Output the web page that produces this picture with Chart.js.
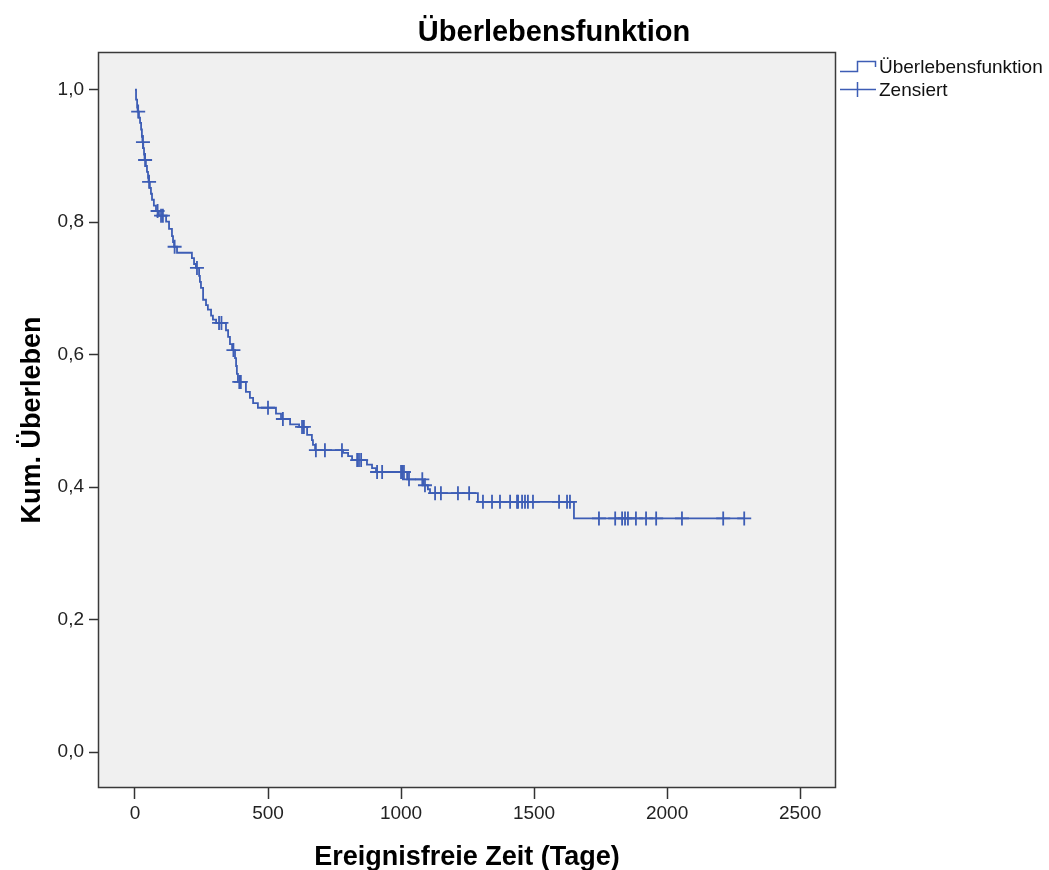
<!DOCTYPE html>
<html><head><meta charset="utf-8">
<script src="https://cdn.jsdelivr.net/npm/chart.js@4/dist/chart.umd.min.js"></script>
<style>html,body{margin:0;padding:0;background:#fff}#wrap{width:1049px;height:870px}</style>
</head><body><div id="wrap"><canvas id="c" width="1049" height="870"></canvas></div>
<script>
const chartTitle = 'Überlebensfunktion';
const xAxisTitle = 'Ereignisfreie Zeit (Tage)';
const yAxisTitle = 'Kum. Überleben';
const legendLabels = ['Überlebensfunktion', 'Zensiert'];
const xTicks = [0, 500, 1000, 1500, 2000, 2500];
const yTicks = [0, 0.2, 0.4, 0.6, 0.8, 1.0];

// Event times (days) and survival after each event
const eventDays = [4, 8, 10, 15, 19, 23, 26, 28, 31, 34, 36, 41, 45, 49, 51, 56, 60, 64, 71, 79, 90,
  117, 128, 139, 143, 147, 158, 214, 222, 229, 241, 244, 248, 256, 267, 274, 286, 293, 305,
  342, 350, 357, 365, 376, 380, 383, 387, 417, 432, 444, 462, 530, 549, 583, 617, 647, 665,
  669, 677, 782, 801, 816, 872, 891, 906, 1023, 1083, 1101, 1109, 1289, 1650];
const survivalAfter = [0.985, 0.973, 0.967, 0.958, 0.950, 0.940, 0.929, 0.921, 0.912, 0.902, 0.894,
  0.885, 0.876, 0.867, 0.861, 0.852, 0.843, 0.834, 0.825, 0.817, 0.810, 0.801, 0.790, 0.779, 0.770,
  0.763, 0.754, 0.746, 0.737, 0.731, 0.719, 0.710, 0.701, 0.683, 0.675, 0.668, 0.659, 0.653, 0.648,
  0.637, 0.627, 0.616, 0.607, 0.595, 0.583, 0.571, 0.559, 0.544, 0.535, 0.527, 0.520, 0.511, 0.503,
  0.495, 0.491, 0.479, 0.471, 0.464, 0.456, 0.452, 0.447, 0.441, 0.434, 0.429, 0.423, 0.412, 0.403,
  0.397, 0.391, 0.378, 0.353];
// Censored observations (days)
const censorDays = [12, 30, 38, 53, 85, 98, 105, 149, 233, 316, 325, 370, 392, 398, 500, 556, 628,
  635, 680, 714, 778, 835, 842, 850, 910, 929, 1000, 1004, 1011, 1030, 1080, 1090, 1128, 1150, 1214,
  1256, 1308, 1342, 1372, 1410, 1436, 1440, 1455, 1466, 1477, 1496, 1594, 1624, 1635, 1744, 1805,
  1831, 1842, 1853, 1883, 1921, 1959, 2056, 2211, 2290];
const lastDay = 2290;

const LINE = '#3d5db5';
const FONT = "'Liberation Sans', Arial, sans-serif";

function survivalAt(t) {
  let s = 1;
  for (let i = 0; i < eventDays.length; i++) { if (eventDays[i] <= t) s = survivalAfter[i]; }
  return s;
}
const stepData = [{x: 0, y: 1}].concat(eventDays.map((d, i) => ({x: d, y: survivalAfter[i]})));
stepData.push({x: lastDay, y: survivalAfter[survivalAfter.length - 1]});
const censorData = censorDays.map(d => ({x: d, y: survivalAt(d)}));

const decor = {
  id: 'decor',
  beforeDraw(chart) {
    const {ctx, chartArea: a} = chart;
    ctx.save();
    ctx.fillStyle = '#ffffff';
    ctx.fillRect(0, 0, chart.width, chart.height);
    ctx.fillStyle = '#f0f0f0';
    ctx.fillRect(a.left, a.top, a.right - a.left, a.bottom - a.top);
    ctx.restore();
  },
  afterDraw(chart) {
    const {ctx, chartArea: a} = chart;
    ctx.save();
    ctx.strokeStyle = '#3a3a3a';
    ctx.lineWidth = 1.5;
    ctx.strokeRect(a.left + 0.5, a.top + 0.5, a.right - a.left - 1, a.bottom - a.top - 1);
    ctx.fillStyle = '#000';
    ctx.textAlign = 'center';
    ctx.textBaseline = 'alphabetic';
    ctx.font = 'bold 29px ' + FONT;
    ctx.fillText(chartTitle, 554, 41);
    ctx.font = 'bold 27px ' + FONT;
    ctx.fillText(xAxisTitle, (a.left + a.right) / 2, 865);
    ctx.save();
    ctx.translate(40, (a.top + a.bottom) / 2);
    ctx.rotate(-Math.PI / 2);
    ctx.fillText(yAxisTitle, 0, 0);
    ctx.restore();
    // legend
    ctx.strokeStyle = LINE;
    ctx.lineWidth = 1.5;
    ctx.beginPath();
    ctx.moveTo(840, 71.5); ctx.lineTo(857.5, 71.5); ctx.lineTo(857.5, 61.5); ctx.lineTo(875.5, 61.5); ctx.lineTo(875.5, 67);
    ctx.stroke();
    ctx.beginPath();
    ctx.moveTo(840, 89.5); ctx.lineTo(876, 89.5);
    ctx.moveTo(857.5, 82); ctx.lineTo(857.5, 97);
    ctx.stroke();
    ctx.fillStyle = '#111';
    ctx.textAlign = 'left';
    ctx.textBaseline = 'middle';
    ctx.font = '19px ' + FONT;
    ctx.fillText(legendLabels[0], 879, 68);
    ctx.fillText(legendLabels[1], 879, 91);
    ctx.restore();
  }
};

new Chart(document.getElementById('c'), {
  type: 'line',
  data: {
    datasets: [
      {label: legendLabels[0], data: stepData, stepped: true, borderColor: LINE, borderWidth: 1.8,
       pointRadius: 0, fill: false, tension: 0},
      {type: 'scatter', label: legendLabels[1], data: censorData, showLine: false, pointStyle: 'cross',
       pointRadius: 7, pointHoverRadius: 7, borderColor: LINE, borderWidth: 1.8, backgroundColor: LINE}
    ]
  },
  options: {
    responsive: false, animation: false, devicePixelRatio: 1,
    layout: {padding: {left: 0, right: 213, top: 52, bottom: 0}},
    plugins: {legend: {display: false}, title: {display: false}, tooltip: {enabled: false}},
    scales: {
      x: {
        type: 'linear', min: -139, max: 2635,
        afterBuildTicks: s => { s.ticks = xTicks.map(v => ({value: v})); },
        afterFit: s => { s.height = 82; },
        grid: {drawOnChartArea: false, drawTicks: true, tickLength: 11, color: '#333', tickWidth: 1.5},
        border: {display: false},
        ticks: {font: {family: FONT, size: 19}, color: '#222', padding: 3, maxRotation: 0, autoSkip: false,
                callback: v => String(v)}
      },
      y: {
        type: 'linear', min: -0.054, max: 1.057,
        afterBuildTicks: s => { s.ticks = yTicks.map(v => ({value: v})); },
        afterFit: s => { s.width = 98; },
        grid: {drawOnChartArea: false, drawTicks: true, tickLength: 9, color: '#333', tickWidth: 1.5},
        border: {display: false},
        ticks: {font: {family: FONT, size: 19}, color: '#222', padding: 5, autoSkip: false,
                callback: v => v.toFixed(1).replace('.', ',')}
      }
    }
  },
  plugins: [decor]
});
</script></body></html>
